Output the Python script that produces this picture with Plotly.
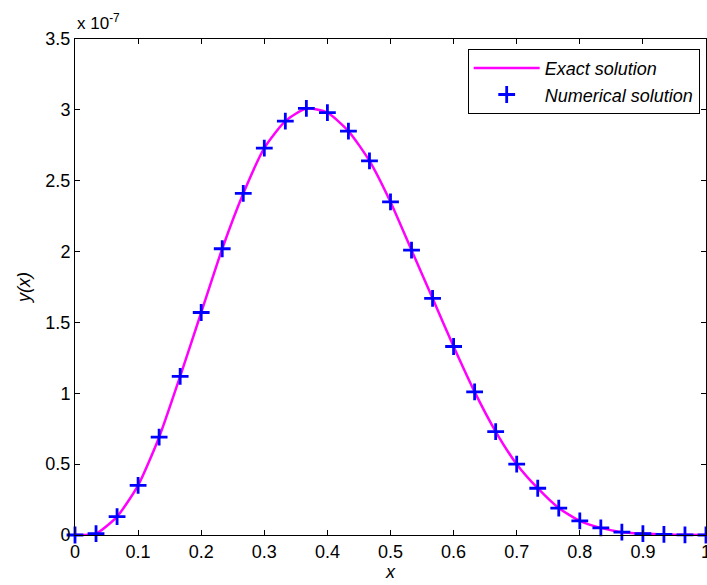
import plotly.graph_objects as go

# Data (y values in units of 1e-7)
x_vals = [i / 30 for i in range(31)]
y_num_scaled = [0.0, 0.01, 0.13, 0.35, 0.69, 1.12, 1.57, 2.02, 2.41, 2.73, 2.92, 3.01,
                2.98, 2.85, 2.64, 2.35, 2.01, 1.67, 1.33, 1.01, 0.73, 0.50, 0.33, 0.19,
                0.10, 0.05, 0.02, 0.01, 0.004, 0.001, 0.0]
scale = 1e-7
y_vals = [v * scale for v in y_num_scaled]

x_ticks = [0, 0.1, 0.2, 0.3, 0.4, 0.5, 0.6, 0.7, 0.8, 0.9, 1]
x_ticklabels = ["0", "0.1", "0.2", "0.3", "0.4", "0.5", "0.6", "0.7", "0.8", "0.9", "1"]
y_ticks_scaled = [0, 0.5, 1, 1.5, 2, 2.5, 3, 3.5]
y_ticklabels = ["0", "0.5", "1", "1.5", "2", "2.5", "3", "3.5"]

font = "Liberation Sans, Arial, sans-serif"

fig = go.Figure()
fig.add_trace(go.Scatter(
    x=x_vals, y=y_vals, mode="lines", name="<i>Exact solution</i>",
    line=dict(color="#FF00FF", width=2.5, shape="spline", smoothing=0.6),
))
fig.add_trace(go.Scatter(
    x=x_vals, y=y_vals, mode="markers", name="<i>Numerical solution</i>",
    marker=dict(symbol="cross-thin", size=12, line=dict(color="#0000FF", width=2.8), color="#0000FF"),
    cliponaxis=False,
))

axis_common = dict(
    showline=True, linecolor="black", linewidth=1, mirror="ticks",
    ticks="inside", ticklen=5, tickcolor="black", showgrid=False, zeroline=False,
    tickfont=dict(family=font, size=18, color="black"),
    ticklabeloverflow="allow", automargin=False,
)

fig.update_layout(
    width=707, height=585,
    margin=dict(l=75, r=1, t=39, b=50),
    plot_bgcolor="white", paper_bgcolor="white",
    font=dict(family=font, size=18, color="black"),
    xaxis=dict(range=[0, 1], tickvals=x_ticks, ticktext=x_ticklabels,
               title=dict(text="<i>x</i>", standoff=2, font=dict(size=18)), **axis_common),
    yaxis=dict(range=[0, 3.5 * scale], tickvals=[v * scale for v in y_ticks_scaled],
               ticktext=y_ticklabels,
               title=dict(text="<i>y(x)</i>", standoff=10, font=dict(size=18)), **axis_common),
    legend=dict(x=0.99, y=0.98, xanchor="right", yanchor="top",
                bgcolor="white", bordercolor="black", borderwidth=1,
                font=dict(family=font, size=18, color="black"), itemwidth=66),
    showlegend=True,
    annotations=[dict(text="x 10<sup>-7</sup>", xref="paper", yref="paper", x=0, y=1,
                      xanchor="left", yanchor="bottom", showarrow=False, yshift=4,
                      font=dict(family=font, size=17, color="black"))],
)

fig.write_html(
    "out.html",
    config={"displayModeBar": False},
    post_script="document.body.style.margin='0';document.body.style.overflow='hidden';",
)
